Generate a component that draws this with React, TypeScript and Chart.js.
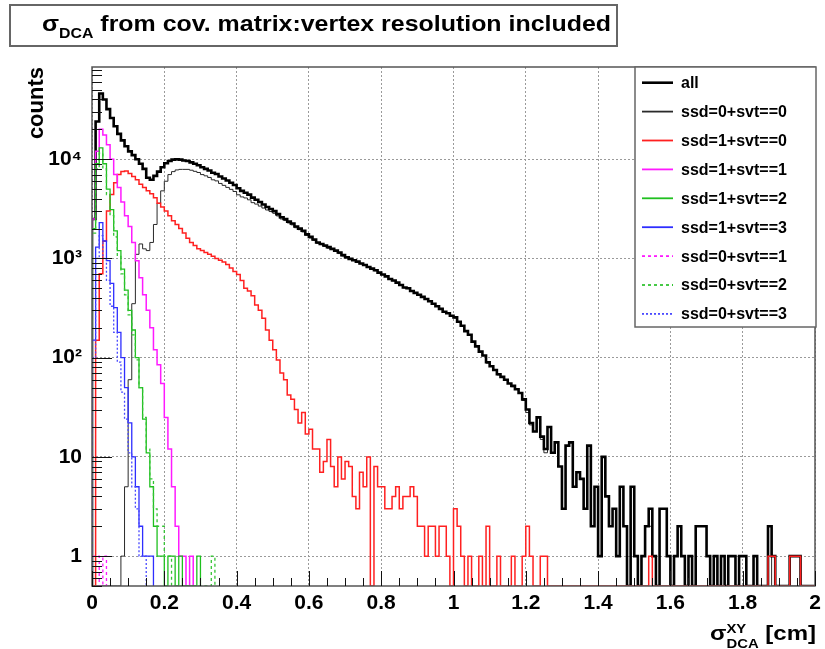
import { useEffect, useRef } from "react";
import { Chart, registerables } from "chart.js";

Chart.register(...registerables);

const FONT = '"Liberation Sans", Arial, Helvetica, sans-serif';

// histogram binning (cm)
const BIN_WIDTH = 0.01;
const X_MIN = 0;
const X_MAX = 2;
const Y_MIN = 0.5;
const Y_MAX = 85000;

const X_TICKS = [0, 0.2, 0.4, 0.6, 0.8, 1, 1.2, 1.4, 1.6, 1.8, 2];
const X_TICK_LABELS = ["0", "0.2", "0.4", "0.6", "0.8", "1", "1.2", "1.4", "1.6", "1.8", "2"];
const Y_TICKS = [1, 10, 100, 1000, 10000];
const Y_TICK_LABELS = ["1", "10", "10²", "10³", "10⁴"];

const SERIES_LABELS = [
  "all",
  "ssd=0+svt==0",
  "ssd=1+svt==0",
  "ssd=1+svt==1",
  "ssd=1+svt==2",
  "ssd=1+svt==3",
  "ssd=0+svt==1",
  "ssd=0+svt==2",
  "ssd=0+svt==3",
];

// counts per bin, bin i covers [i*0.01, (i+1)*0.01)
const allCounts = [
  2500, 24000, 46000, 40000, 32000, 26000, 21500, 18000, 15500, 13500,
  12000, 11000, 10000, 9000, 8000, 6500, 6200, 6800, 7500, 8300,
  9100, 9600, 9900, 10000, 9900, 9700, 9600, 9300, 9000, 8700,
  8300, 8000, 7700, 7300, 7100, 6700, 6400, 6100, 5800, 5500,
  5100, 4800, 4600, 4400, 4100, 3900, 3700, 3500, 3300, 3150,
  3000, 2800, 2600, 2500, 2350, 2250, 2100, 2000, 1900, 1750,
  1650, 1550, 1450, 1400, 1350, 1300, 1250, 1200, 1150, 1080,
  1030, 990, 960, 930, 890, 860, 820, 790, 760, 720,
  690, 660, 620, 600, 570, 540, 510, 500, 470, 450,
  430, 410, 390, 370, 350, 330, 310, 290, 280, 265,
  255, 230, 210, 185, 170, 145, 130, 115, 105, 90,
  82, 75, 68, 64, 60, 55, 52, 48, 44, 38,
  30, 22, 18, 25, 16, 12, 20, 11, 14, 8,
  3, 13, 14, 5, 7, 6, 3, 13, 2, 5,
  1, 10, 4, 2, 3, 1, 5, 2, 0, 5,
  1, 0, 1, 2, 3, 1, 0, 3, 3, 1,
  0, 1, 2, 1, 0, 1, 0, 2, 2, 2,
  1, 0, 1, 0, 1, 0, 1, 1, 0, 1,
  1, 0, 0, 1, 0, 0, 0, 2, 1, 0,
  0, 0, 0, 1, 1, 1, 0, 0, 0, 0,
];

const ssd0svt0 = [
  0, 0, 0, 0, 0, 0, 0, 0, 1, 5,
  60, 350, 1100, 1400, 1250, 1200, 1450, 2200, 3600, 4800,
  6000, 7000, 7500, 7800, 7900, 7900, 7900, 7750, 7550, 7350,
  7000, 6800, 6550, 6200, 6050, 5700, 5450, 5200, 4970, 4730,
  4380, 4170, 4070, 3900, 3650, 3530, 3370, 3220, 3080, 2970,
  2850, 2680, 2500, 2410, 2280, 2180, 2040, 1950, 1850, 1710,
  1610, 1520, 1420, 1380, 1320, 1270, 1230, 1180, 1120, 1060,
  1010, 982, 956, 927, 883, 855, 810, 790, 752, 715,
  685, 657, 617, 596, 565, 537, 506, 496, 465, 446,
  428, 408, 389, 368, 348, 329, 308, 288, 279, 265,
  252, 228, 209, 185, 169, 145, 130, 114, 105, 88,
  82, 75, 67, 64, 60, 55, 51, 48, 44, 37,
  28, 21, 18, 25, 15, 11, 20, 11, 14, 8,
  3, 13, 14, 5, 7, 6, 3, 13, 2, 5,
  1, 10, 4, 2, 3, 1, 5, 2, 0, 5,
  1, 0, 1, 2, 2, 1, 0, 3, 3, 1,
  0, 1, 2, 1, 0, 1, 0, 2, 2, 2,
  1, 0, 1, 0, 1, 0, 1, 1, 0, 1,
  1, 0, 0, 1, 0, 0, 0, 1, 0, 0,
  0, 0, 0, 0, 0, 0, 0, 0, 0, 0,
];

const ssd1svt0 = [
  0, 150, 700, 1500, 3000, 4400, 5800, 7000, 7500, 7600,
  7200, 6700, 6200, 5600, 5200, 4800, 4500, 4100, 3600, 3300,
  3000, 2700, 2400, 2200, 2000, 1800, 1600, 1450, 1350, 1250,
  1200, 1150, 1100, 1050, 1000, 960, 920, 870, 800, 740,
  690, 600, 500, 470, 420, 340, 300, 250, 190, 150,
  120, 95, 70, 60, 42, 38, 30, 22, 28, 17,
  19, 12, 12, 7, 9, 15, 8, 5, 10, 6,
  9, 8, 4, 3, 7, 5, 10, 0, 8, 5,
  5, 3, 3, 4, 5, 3, 4, 4, 5, 4,
  2, 2, 1, 2, 2, 1, 2, 2, 1, 0,
  3, 2, 1, 0, 1, 0, 0, 1, 0, 2,
  0, 0, 1, 0, 0, 0, 1, 0, 0, 1,
  2, 1, 0, 0, 1, 1, 0, 0, 0, 0,
  0, 0, 0, 0, 0, 0, 0, 0, 0, 0,
  0, 0, 0, 0, 0, 0, 0, 0, 0, 0,
  0, 0, 0, 0, 1, 0, 0, 0, 0, 0,
  0, 0, 0, 0, 0, 0, 0, 0, 0, 0,
  0, 0, 0, 0, 0, 0, 0, 0, 0, 0,
  0, 0, 0, 0, 0, 0, 0, 1, 1, 0,
  0, 0, 0, 1, 1, 1, 0, 0, 0, 0,
];

const ssd1svt1 = [
  2500, 12000, 20000, 17500, 14000, 10000, 7000, 5200, 3700, 2700,
  2100, 1450, 950, 640, 430, 300, 200, 120, 85, 55,
  25, 12, 5, 2, 1, 1, 0, 1,
];

const ssd1svt2 = [
  2000, 9000, 13000, 9000, 5000, 3100, 1900, 1200, 780, 480,
  300, 190, 100, 50, 24, 11, 5, 2, 1, 1,
  0, 1, 1, 0, 1, 0, 0, 0, 0, 1,
];

const ssd1svt3 = [
  150, 1300, 2300, 1500, 950, 560, 320, 180, 100, 50,
  22, 10, 5, 2, 1, 1, 1,
];

const ssd0svt1 = [1, 1, 0, 1];

const ssd0svt2 = [
  1800, 8000, 11500, 8000, 4400, 2700, 1650, 1050, 700, 430,
  270, 170, 95, 50, 25, 12, 6, 3, 2, 2,
  1, 1, 0, 0, 0, 0, 0, 0, 0, 0,
  0, 0, 0, 1,
];

const ssd0svt3 = [
  100, 1000, 1700, 1000, 600, 330, 180, 90, 45, 24,
  11, 5, 3, 1, 1,
];

// Histogram outline: empty bins sit on the axis floor, as ROOT draws them.
function histPoints(counts: number[]) {
  const floor = (c: number) => (c > 0 ? c : Y_MIN);
  const pts: { x: number; y: number }[] = [{ x: X_MIN, y: Y_MIN }];
  counts.forEach((c, i) => pts.push({ x: X_MIN + i * BIN_WIDTH, y: floor(c) }));
  const end = X_MIN + counts.length * BIN_WIDTH;
  pts.push({ x: end, y: floor(counts[counts.length - 1]) });
  pts.push({ x: end, y: Y_MIN });
  return pts;
}

type Part = { t: string; size: number };

function partWidth(ctx: CanvasRenderingContext2D, p: Part) {
  ctx.font = `bold ${p.size}px ${FONT}`;
  return ctx.measureText(p.t).width;
}

function drawPart(ctx: CanvasRenderingContext2D, p: Part, x: number, y: number, sx: number) {
  ctx.font = `bold ${p.size}px ${FONT}`;
  ctx.save();
  ctx.translate(x, y);
  ctx.scale(sx, 1);
  ctx.fillText(p.t, 0, 0);
  ctx.restore();
}

const decorPlugin = {
  id: "rootDecor",
  afterDatasetsDraw(chart: any) {
    const { ctx, chartArea: a, scales } = chart;
    const xs = scales.x;
    const ys = scales.y;
    ctx.save();

    // frame
    ctx.strokeStyle = "#555";
    ctx.lineWidth = 1.5;
    ctx.setLineDash([]);
    ctx.strokeRect(a.left, a.top, a.right - a.left, a.bottom - a.top);

    // x ticks (inside, pointing up)
    ctx.strokeStyle = "#111";
    ctx.lineWidth = 1;
    for (let k = 0; k <= 40; k++) {
      const v = X_MIN + k * 0.05;
      const px = Math.round(xs.getPixelForValue(v)) + 0.5;
      const len = k % 4 === 0 ? 15 : 8;
      ctx.beginPath();
      ctx.moveTo(px, a.bottom);
      ctx.lineTo(px, a.bottom - len);
      ctx.stroke();
    }
    // y ticks (log, inside)
    for (let d = -1; d <= 4; d++) {
      for (let m = 1; m <= 9; m++) {
        const v = m * Math.pow(10, d);
        if (v < Y_MIN || v > Y_MAX) continue;
        const py = Math.round(ys.getPixelForValue(v)) + 0.5;
        const len = m === 1 ? 20 : 10;
        ctx.beginPath();
        ctx.moveTo(a.left, py);
        ctx.lineTo(a.left + len, py);
        ctx.stroke();
      }
    }

    // title box
    ctx.fillStyle = "#fff";
    ctx.fillRect(10, 5, 607, 41);
    ctx.strokeStyle = "#666";
    ctx.lineWidth = 2;
    ctx.strokeRect(10, 5, 607, 41);
    ctx.fillStyle = "#000";
    ctx.textBaseline = "alphabetic";
    ctx.textAlign = "left";
    {
      const sig: Part = { t: "σ", size: 22 };
      const sub: Part = { t: "DCA", size: 14 };
      const rest: Part = { t: " from cov. matrix:vertex resolution included", size: 22 };
      const total = partWidth(ctx, sig) + partWidth(ctx, sub) + partWidth(ctx, rest);
      const sx = (611 - 42) / total;
      let x = 42;
      drawPart(ctx, sig, x, 31, sx);
      x += partWidth(ctx, sig) * sx;
      drawPart(ctx, sub, x, 38, sx);
      x += partWidth(ctx, sub) * sx;
      drawPart(ctx, rest, x, 31, sx);
    }

    // x title: sigma^XY_DCA [cm], right aligned
    {
      const sig: Part = { t: "σ", size: 21 };
      const sup: Part = { t: "XY", size: 13 };
      const sub: Part = { t: "DCA", size: 13 };
      const cm: Part = { t: " [cm]", size: 21 };
      const wS = partWidth(ctx, sig);
      const wScript = Math.max(partWidth(ctx, sup), partWidth(ctx, sub));
      const wC = partWidth(ctx, cm);
      const total = wS + wScript + wC;
      const sx = (816 - 710) / total;
      let x = 710;
      drawPart(ctx, sig, x, 640, sx);
      x += wS * sx;
      drawPart(ctx, sup, x, 633, sx);
      drawPart(ctx, sub, x, 648, sx);
      x += wScript * sx;
      drawPart(ctx, cm, x, 640, sx);
    }

    // y title "counts"
    ctx.save();
    ctx.translate(43, 67);
    ctx.rotate(-Math.PI / 2);
    ctx.textAlign = "right";
    ctx.font = `bold 22px ${FONT}`;
    ctx.fillText("counts", 0, 0);
    ctx.restore();

    // legend
    const lx = 635, ly = 67, lw = 181, lh = 260;
    ctx.fillStyle = "#fff";
    ctx.fillRect(lx, ly, lw, lh);
    ctx.strokeStyle = "#666";
    ctx.lineWidth = 1.5;
    ctx.setLineDash([]);
    ctx.strokeRect(lx, ly, lw, lh);
    chart.data.datasets.forEach((ds: any, i: number) => {
      const cy = 82.7 + i * 28.9;
      ctx.strokeStyle = ds.borderColor;
      ctx.lineWidth = Math.max(ds.borderWidth, 1.8);
      ctx.setLineDash(ds.borderDash || []);
      ctx.beginPath();
      ctx.moveTo(642, cy);
      ctx.lineTo(673, cy);
      ctx.stroke();
      ctx.setLineDash([]);
      ctx.fillStyle = "#000";
      ctx.font = `bold 16px ${FONT}`;
      ctx.textAlign = "left";
      ctx.textBaseline = "middle";
      ctx.fillText(ds.label, 681, cy + 1);
    });

    ctx.restore();
  },
};

const SERIES_DATA = [allCounts, ssd0svt0, ssd1svt0, ssd1svt1, ssd1svt2, ssd1svt3, ssd0svt1, ssd0svt2, ssd0svt3];
const SERIES_COLORS = ["#000000", "#2a2a2a", "#ff2020", "#ff1aff", "#1fc01f", "#2e2eff", "#ff1aff", "#33c433", "#4a4aff"];
const SERIES_WIDTHS = [2.6, 1, 1.5, 1.5, 1.3, 1.3, 1.3, 1.3, 1.3];
const SERIES_DASHES: number[][] = [[], [], [], [], [], [], [3, 3], [3, 3], [2, 2]];
const SERIES_ORDER = [8, 9, 7, 6, 5, 4, 3, 2, 1];

export default function App() {
  const ref = useRef<HTMLCanvasElement>(null);

  useEffect(() => {
    document.body.style.margin = "0";
    const canvas = ref.current;
    if (!canvas) return;
    const chart = new Chart(canvas, {
      type: "line",
      data: {
        datasets: SERIES_LABELS.map((label, i) => ({
          label,
          data: histPoints(SERIES_DATA[i]),
          borderColor: SERIES_COLORS[i],
          borderWidth: SERIES_WIDTHS[i],
          borderDash: SERIES_DASHES[i],
          stepped: true,
          fill: false,
          pointRadius: 0,
          order: SERIES_ORDER[i],
        })),
      },
      options: {
        animation: false,
        responsive: false,
        maintainAspectRatio: false,
        layout: { padding: { left: 0, top: 67, right: 10, bottom: 0 } },
        plugins: {
          legend: { display: false },
          tooltip: { enabled: false },
          title: { display: false },
        },
        elements: { point: { radius: 0 }, line: { tension: 0 } },
        scales: {
          x: {
            type: "linear",
            min: X_MIN,
            max: X_MAX,
            afterBuildTicks: (s: any) => {
              s.ticks = X_TICKS.map((v) => ({ value: v }));
            },
            afterFit: (s: any) => {
              s.height = 63;
              s.paddingLeft = 0;
              s.paddingRight = 0;
            },
            ticks: {
              autoSkip: false,
              maxRotation: 0,
              padding: 5,
              color: "#000",
              font: { family: FONT, size: 21, weight: "bold" },
              callback: (v: any) => X_TICK_LABELS[X_TICKS.indexOf(Number(v))] ?? "",
            },
            grid: { color: "#9a9a9a", lineWidth: 1, drawTicks: false },
            border: { display: false, dash: [2, 2] },
          },
          y: {
            type: "logarithmic",
            min: Y_MIN,
            max: Y_MAX,
            afterBuildTicks: (s: any) => {
              s.ticks = Y_TICKS.map((v) => ({ value: v }));
            },
            afterFit: (s: any) => {
              s.width = 92;
              s.paddingTop = 0;
              s.paddingBottom = 0;
            },
            ticks: {
              autoSkip: false,
              padding: 10,
              color: "#000",
              font: { family: FONT, size: 21, weight: "bold" },
              callback: (v: any) => Y_TICK_LABELS[Y_TICKS.indexOf(Number(v))] ?? "",
            },
            grid: { color: "#9a9a9a", lineWidth: 1, drawTicks: false },
            border: { display: false, dash: [2, 2] },
          },
        },
      },
      plugins: [decorPlugin],
    } as any);
    return () => chart.destroy();
  }, []);

  return (
    <div style={{ width: 825, height: 649, background: "#fff" }}>
      <canvas ref={ref} width={825} height={649} style={{ display: "block", width: 825, height: 649 }} />
    </div>
  );
}
